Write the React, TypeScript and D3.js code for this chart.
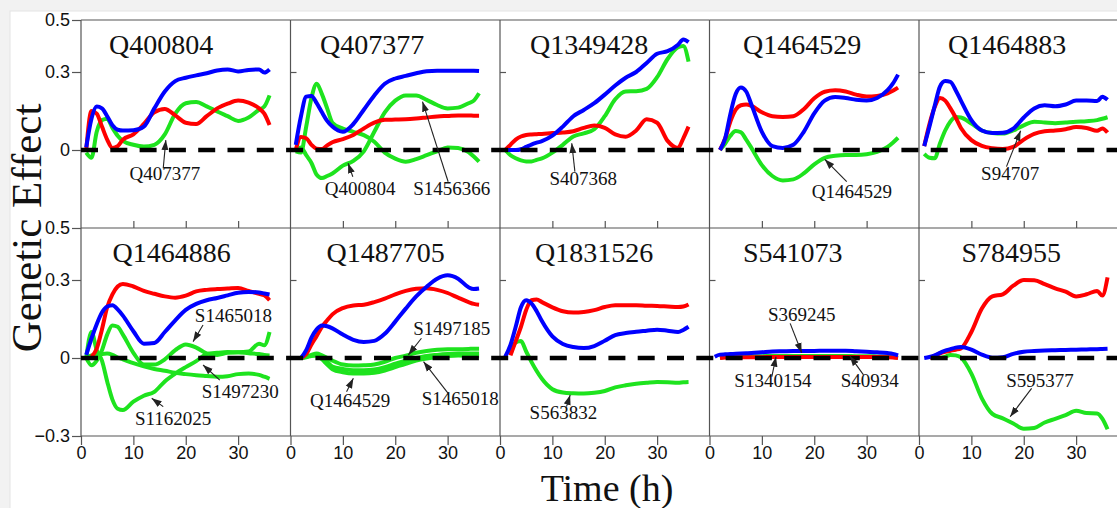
import React, { useRef, useEffect } from 'react';
import * as d3 from 'd3';

// sampling times (h), shared by every curve
const hours = [1, 2, 3, 4, 5, 6, 7, 8, 10, 12, 14, 16, 18, 20, 22, 24, 26, 28, 30, 32, 34, 35, 36];

const titles = ['Q400804', 'Q407377', 'Q1349428', 'Q1464529', 'Q1464883', 'Q1464886', 'Q1487705', 'Q1831526', 'S541073', 'S784955'];

const yTicksTop = [0.5, 0.3, 0];
const yTicksBottom = [0.5, 0.3, 0, -0.3];
const xTicks = [0, 10, 20, 30];

// Q400804
const q400804Red = [0, 0.15, 0.14, 0.09, 0.04, 0.008, 0.015, 0.04, 0.06, 0.1, 0.145, 0.158, 0.133, 0.105, 0.1, 0.13, 0.16, 0.178, 0.19, 0.182, 0.16, 0.14, 0.096];
const q400804Blue = [0.01, 0.12, 0.167, 0.16, 0.13, 0.095, 0.078, 0.075, 0.076, 0.09, 0.16, 0.225, 0.265, 0.278, 0.287, 0.295, 0.306, 0.31, 0.302, 0.308, 0.31, 0.298, 0.31];
const q400804Green = [-0.01, -0.03, 0.07, 0.115, 0.12, 0.085, 0.055, 0.035, 0.02, 0.013, 0.02, 0.06, 0.14, 0.18, 0.185, 0.168, 0.148, 0.13, 0.112, 0.125, 0.155, 0.167, 0.21];

// Q407377
const q407377Red = [0, 0.05, 0.045, 0.02, 0.005, 0.004, 0.018, 0.03, 0.042, 0.058, 0.083, 0.105, 0.116, 0.117, 0.118, 0.121, 0.125, 0.129, 0.131, 0.133, 0.133, 0.132, 0.132];
const q407377Blue = [0.02, 0.13, 0.205, 0.208, 0.18, 0.145, 0.112, 0.09, 0.07, 0.1, 0.155, 0.21, 0.255, 0.275, 0.285, 0.295, 0.303, 0.305, 0.305, 0.305, 0.305, 0.305, 0.304];
const q407377Green1 = [-0.005, -0.01, 0.09, 0.2, 0.255, 0.215, 0.16, 0.105, 0.082, 0.07, 0.057, 0.032, -0.01, -0.033, -0.045, -0.035, -0.02, -0.005, 0.01, 0.008, -0.008, -0.025, -0.045];
const q407377Green2 = [0, 0.01, -0.02, -0.05, -0.095, -0.108, -0.1, -0.09, -0.06, -0.042, -0.005, 0.07, 0.145, 0.19, 0.21, 0.21, 0.193, 0.173, 0.16, 0.163, 0.18, 0.19, 0.218];

// Q1349428
const q1349428Red = [0, 0.02, 0.04, 0.052, 0.058, 0.06, 0.061, 0.062, 0.065, 0.067, 0.072, 0.085, 0.094, 0.085, 0.06, 0.051, 0.075, 0.118, 0.105, 0.035, 0.008, 0.045, 0.09];
const q1349428Blue = [0, 0, 0, 0.003, 0.012, 0.021, 0.028, 0.034, 0.055, 0.09, 0.13, 0.154, 0.18, 0.213, 0.248, 0.278, 0.3, 0.335, 0.37, 0.38, 0.405, 0.425, 0.415];
const q1349428Green = [0, -0.02, -0.032, -0.04, -0.044, -0.044, -0.038, -0.032, -0.01, 0.02, 0.052, 0.064, 0.08, 0.13, 0.195, 0.225, 0.226, 0.235, 0.28, 0.35, 0.395, 0.4, 0.34];

// Q1464529
const q1464529Red = [null, 0, 0.045, 0.11, 0.155, 0.172, 0.175, 0.17, 0.145, 0.13, 0.127, 0.13, 0.157, 0.199, 0.224, 0.23, 0.225, 0.213, 0.206, 0.208, 0.218, 0.228, 0.24];
const q1464529Blue = [null, 0, 0.045, 0.14, 0.215, 0.24, 0.225, 0.175, 0.07, 0.015, 0.008, 0.02, 0.07, 0.141, 0.19, 0.204, 0.2, 0.193, 0.19, 0.2, 0.23, 0.255, 0.29];
const q1464529Green = [null, 0, 0.025, 0.055, 0.073, 0.068, 0.04, 0.008, -0.058, -0.1, -0.117, -0.113, -0.09, -0.055, -0.03, -0.022, -0.019, -0.019, -0.016, -0.007, 0.012, 0.028, 0.047];

// Q1464883
const q1464883Red = [0.015, 0.1, 0.165, 0.2, 0.19, 0.16, 0.125, 0.085, 0.038, 0.016, 0.007, 0.004, 0.012, 0.04, 0.062, 0.072, 0.075, 0.08, 0.088, 0.085, 0.074, 0.083, 0.067];
const q1464883Blue = [0.015, 0.09, 0.17, 0.244, 0.265, 0.262, 0.23, 0.19, 0.115, 0.075, 0.065, 0.066, 0.082, 0.125, 0.16, 0.172, 0.168, 0.175, 0.19, 0.19, 0.188, 0.205, 0.193];
const q1464883Green = [-0.015, -0.03, -0.032, 0.025, 0.075, 0.11, 0.127, 0.125, 0.102, 0.075, 0.065, 0.063, 0.075, 0.095, 0.109, 0.106, 0.103, 0.106, 0.109, 0.111, 0.115, 0.12, 0.126];

// Q1464886
const q1464886Red = [null, 0.005, 0.036, 0.11, 0.195, 0.245, 0.275, 0.285, 0.275, 0.258, 0.247, 0.237, 0.232, 0.24, 0.256, 0.262, 0.265, 0.267, 0.269, 0.258, 0.247, 0.241, 0.222];
const q1464886Blue = [0.012, 0.075, 0.13, 0.175, 0.198, 0.203, 0.187, 0.163, 0.103, 0.055, 0.058, 0.1, 0.145, 0.185, 0.208, 0.222, 0.231, 0.241, 0.251, 0.254, 0.252, 0.248, 0.244];
const q1464886Green1 = [0, 0.1, 0.03, -0.01, -0.09, -0.16, -0.195, -0.2, -0.168, -0.145, -0.13, -0.09, -0.06, -0.035, -0.012, 0.015, 0.02, 0.023, 0.022, 0.025, 0.055, 0.049, 0.1];
const q1464886Green2 = [0, -0.028, -0.01, 0.03, 0.09, 0.125, 0.12, 0.09, 0.02, -0.025, -0.025, -0.005, 0.03, 0.052, 0.04, 0.018, 0.012, 0.02, 0.022, 0.018, 0.015, 0.012, 0.01];
const q1464886Green3 = [0, 0.01, 0.01, 0.015, 0.017, 0.012, 0.002, -0.005, -0.02, -0.032, -0.042, -0.049, -0.057, -0.062, -0.066, -0.069, -0.072, -0.07, -0.062, -0.06, -0.065, -0.072, -0.08];

// Q1487705
const q1487705Red = [null, 0, 0.015, 0.052, 0.085, 0.12, 0.145, 0.168, 0.192, 0.202, 0.205, 0.215, 0.228, 0.245, 0.258, 0.266, 0.268, 0.262, 0.25, 0.232, 0.215, 0.208, 0.205];
const q1487705Blue = [null, 0, 0.03, 0.078, 0.11, 0.125, 0.122, 0.114, 0.09, 0.07, 0.062, 0.066, 0.093, 0.14, 0.19, 0.237, 0.274, 0.305, 0.318, 0.305, 0.272, 0.265, 0.267];
const q1487705Green1 = [null, 0, 0.005, 0.012, 0.017, 0.01, 0, -0.01, -0.025, -0.029, -0.028, -0.025, -0.015, 0, 0.009, 0.02, 0.027, 0.032, 0.034, 0.034, 0.035, 0.036, 0.036];
const q1487705Green2 = [null, 0, 0.005, 0.01, 0.012, 0, -0.015, -0.033, -0.042, -0.047, -0.047, -0.044, -0.035, -0.022, -0.01, 0, 0.008, 0.012, 0.015, 0.017, 0.017, 0.017, 0.017];
const q1487705Green3 = [null, 0, 0.003, 0.008, 0.01, -0.005, -0.025, -0.043, -0.055, -0.06, -0.06, -0.057, -0.048, -0.035, -0.022, -0.01, -0.002, 0.004, 0.008, 0.01, 0.009, 0.008, 0.008];

// Q1831526
const q1831526Red = [null, 0.01, 0.065, 0.12, 0.185, 0.222, 0.225, 0.215, 0.195, 0.18, 0.175, 0.177, 0.184, 0.196, 0.203, 0.203, 0.203, 0.201, 0.2, 0.198, 0.196, 0.198, 0.206];
const q1831526Blue = [0.005, 0.05, 0.12, 0.195, 0.222, 0.21, 0.18, 0.142, 0.083, 0.054, 0.042, 0.038, 0.046, 0.066, 0.088, 0.096, 0.101, 0.105, 0.109, 0.105, 0.1, 0.108, 0.12];
const q1831526Green = [null, 0.015, 0.06, 0.065, 0.025, -0.015, -0.05, -0.08, -0.12, -0.133, -0.136, -0.137, -0.134, -0.127, -0.113, -0.105, -0.099, -0.095, -0.092, -0.093, -0.095, -0.093, -0.092];

// S541073
const s541073Red = [null, 0, 0.002, 0.003, 0.003, 0.003, 0.003, 0.003, 0.003, 0.004, 0.004, 0.004, 0.004, 0.004, 0.004, 0.004, 0.004, 0.004, 0.004, 0.004, 0.003, 0.002, 0];
const s541073Blue = [0.005, 0.013, 0.014, 0.015, 0.016, 0.017, 0.018, 0.019, 0.022, 0.025, 0.026, 0.027, 0.027, 0.027, 0.028, 0.028, 0.028, 0.026, 0.024, 0.022, 0.019, 0.016, 0.01];
const s541073Green = [null, 0, 0.004, 0.005, 0.006, 0.006, 0.006, 0.007, 0.007, 0.008, 0.008, 0.008, 0.008, 0.008, 0.008, 0.008, 0.008, 0.007, 0.007, 0.006, 0.005, 0.004, 0.002];

// S784955
const s784955Red = [null, 0, 0.008, 0.018, 0.024, 0.028, 0.032, 0.037, 0.1, 0.19, 0.237, 0.245, 0.278, 0.3, 0.299, 0.284, 0.268, 0.255, 0.237, 0.245, 0.258, 0.24, 0.31];
const s784955Blue = [0, 0.004, 0.01, 0.02, 0.028, 0.034, 0.04, 0.042, 0.032, 0.013, 0.001, 0.003, 0.016, 0.024, 0.027, 0.029, 0.03, 0.031, 0.032, 0.033, 0.034, 0.035, 0.036];
const s784955Green = [null, null, 0, 0, 0.005, 0.012, 0.01, 0.002, -0.06, -0.155, -0.215, -0.232, -0.252, -0.272, -0.269, -0.248, -0.234, -0.22, -0.203, -0.212, -0.213, -0.233, -0.274];

const reds = [q400804Red, q407377Red, q1349428Red, q1464529Red, q1464883Red, q1464886Red, q1487705Red, q1831526Red, s541073Red, s784955Red];
const blues = [q400804Blue, q407377Blue, q1349428Blue, q1464529Blue, q1464883Blue, q1464886Blue, q1487705Blue, q1831526Blue, s541073Blue, s784955Blue];
const greens = [
  [q400804Green],
  [q407377Green1, q407377Green2],
  [q1349428Green],
  [q1464529Green],
  [q1464883Green],
  [q1464886Green1, q1464886Green2, q1464886Green3],
  [q1487705Green1, q1487705Green2, q1487705Green3],
  [q1831526Green],
  [s541073Green],
  [s784955Green],
];

// annotation labels: panel, text, text pos (h, effect), arrow from -> to (h, effect)
const notes = [
  { p: 0, text: 'Q407377', at: [16, -0.115], from: [15.7, -0.07], to: [16.2, 0.038] },
  { p: 1, text: 'Q400804', at: [13.3, -0.173], from: [11.9, -0.103], to: [11, -0.051] },
  { p: 1, text: 'S1456366', at: [30.8, -0.173], from: [30.1, -0.122], to: [25.2, 0.186] },
  { p: 2, text: 'S407368', at: [15.9, -0.135], from: [14.3, -0.083], to: [13.7, 0.026] },
  { p: 3, text: 'Q1464529', at: [27.2, -0.185], from: [26.2, -0.122], to: [22, -0.036] },
  { p: 4, text: 'S94707', at: [17.4, -0.115], from: [16.7, -0.064], to: [19.4, 0.074] },
  { p: 5, text: 'S1465018', at: [29.1, 0.14], from: [23.3, 0.127], to: [21.4, 0.063] },
  { p: 5, text: 'S1497230', at: [30.4, -0.155], from: [26.5, -0.085], to: [23.3, -0.027] },
  { p: 5, text: 'S1162025', at: [17.6, -0.258], from: [15.7, -0.187], to: [13.5, -0.155] },
  { p: 6, text: 'S1497185', at: [30.8, 0.088], from: [25, 0.076], to: [22.5, 0.012] },
  { p: 6, text: 'Q1464529', at: [11.4, -0.187], from: [10.7, -0.13], to: [12, -0.078] },
  { p: 6, text: 'S1465018', at: [32.4, -0.181], from: [30.1, -0.136], to: [25.4, -0.014] },
  { p: 7, text: 'S563832', at: [12.1, -0.236], from: [12.7, -0.187], to: [13.4, -0.142] },
  { p: 8, text: 'S369245', at: [17.6, 0.143], from: [15.4, 0.133], to: [17.6, 0.02] },
  { p: 8, text: 'S1340154', at: [12.1, -0.11], from: [11.9, -0.072], to: [12.7, 0.005] },
  { p: 8, text: 'S40934', at: [30.6, -0.11], from: [29.4, -0.065], to: [26.8, 0.008] },
  { p: 9, text: 'S595377', at: [23.1, -0.11], from: [21.5, -0.117], to: [17.4, -0.226] },
];

// title left offsets inside each panel (px)
const titleOffsets = [28, 29.5, 30, 33.5, 29, 31.5, 36, 35, 33.5, 42.5];

const SANS = "'Liberation Sans', Arial, sans-serif";
const SERIF = "'Liberation Serif', 'Times New Roman', serif";

const App = () => {
  const chartRef = useRef<SVGSVGElement>(null);

  useEffect(() => {
    const W = 1117;
    const H = 508;
    const left = 81;
    const top = 20;
    const panelW = 209.5;
    const panelH = 208;
    const axisColor = '#555';

    const svg = d3.select(chartRef.current);
    svg.selectAll('*').remove();

    svg.append('rect').attr('width', W).attr('height', H).attr('fill', '#f2f2f2');
    svg
      .append('rect')
      .attr('x', 10)
      .attr('y', 11)
      .attr('width', W)
      .attr('height', H)
      .attr('fill', '#fff')
      .attr('stroke', '#e4e4e4');

    svg
      .append('defs')
      .append('marker')
      .attr('id', 'arrow')
      .attr('markerUnits', 'userSpaceOnUse')
      .attr('markerWidth', 10)
      .attr('markerHeight', 8)
      .attr('refX', 10)
      .attr('refY', 4)
      .attr('orient', 'auto')
      .append('path')
      .attr('d', 'M0,0.5 L10,4 L0,7.5 Z')
      .attr('fill', '#222');

    const x = d3.scaleLinear().domain([0, 40]).range([0, panelW]);
    const y = d3.scaleLinear().domain([-0.3, 0.5]).range([panelH, 0]);
    const fmt = (d: number) => (d === 0 ? '0' : d3.format('.1f')(d));

    const line = d3
      .line<number | null>()
      .defined((d) => d !== null)
      .x((d, i) => x(hours[i]))
      .y((d) => y(d as number))
      .curve(d3.curveMonotoneX);

    titles.forEach((title, p) => {
      const col = p % 5;
      const row = Math.floor(p / 5);
      const g = svg
        .append('g')
        .attr('transform', `translate(${left + col * panelW},${top + row * panelH})`);

      // frame lines
      g.append('line').attr('x1', 0).attr('x2', panelW).attr('y1', 0).attr('y2', 0)
        .attr('stroke', axisColor).attr('stroke-width', 1.2);
      g.append('line').attr('x1', 0).attr('x2', 0).attr('y1', 0).attr('y2', panelH)
        .attr('stroke', axisColor).attr('stroke-width', 1.2);
      if (row === 1) {
        g.append('line').attr('x1', 0).attr('x2', panelW).attr('y1', panelH).attr('y2', panelH)
          .attr('stroke', axisColor).attr('stroke-width', 1.2);
      }

      // y ticks
      if (col === 0) {
        const yAxis = d3.axisLeft(y)
          .tickValues(row === 0 ? yTicksTop : yTicksBottom)
          .tickFormat(fmt as any)
          .tickSize(9)
          .tickPadding(2);
        const ya = g.append('g').call(yAxis);
        ya.select('.domain').remove();
        ya.selectAll('line').attr('stroke', axisColor).attr('stroke-width', 1.2);
        ya.selectAll('text').attr('font-family', SANS).attr('font-size', 18).attr('fill', '#111');
      } else {
        const yAxis = d3.axisRight(y).tickValues([0.3]).tickFormat(() => '').tickSize(6);
        const ya = g.append('g').call(yAxis);
        ya.select('.domain').remove();
        ya.selectAll('line').attr('stroke', axisColor).attr('stroke-width', 1.2);
      }

      // x ticks
      if (row === 0) {
        const xAxis = d3.axisTop(x).tickValues([10, 20, 30]).tickFormat(() => '').tickSize(7);
        const xa = g.append('g').attr('transform', `translate(0,${panelH})`).call(xAxis);
        xa.select('.domain').remove();
        xa.selectAll('line').attr('stroke', axisColor).attr('stroke-width', 1.2);
      } else {
        const xAxis = d3.axisBottom(x).tickValues(xTicks).tickFormat(d3.format('d') as any).tickSize(9).tickPadding(1);
        const xa = g.append('g').attr('transform', `translate(0,${panelH})`).call(xAxis);
        xa.select('.domain').remove();
        xa.selectAll('line').attr('stroke', axisColor).attr('stroke-width', 1.2);
        xa.selectAll('text').attr('font-family', SANS).attr('font-size', 18).attr('fill', '#111');
      }

      // title
      g.append('text')
        .attr('x', titleOffsets[p])
        .attr('y', 34)
        .attr('font-family', SERIF)
        .attr('font-size', 28)
        .attr('fill', '#111')
        .text(title);

      // curves
      greens[p].forEach((s) => {
        g.append('path').attr('d', line(s)).attr('fill', 'none')
          .attr('stroke', '#1ee31e').attr('stroke-width', 4).attr('stroke-linejoin', 'round');
      });
      g.append('path').attr('d', line(reds[p])).attr('fill', 'none')
        .attr('stroke', '#ff0000').attr('stroke-width', 4).attr('stroke-linejoin', 'round');
      g.append('path').attr('d', line(blues[p])).attr('fill', 'none')
        .attr('stroke', '#0000ff').attr('stroke-width', 4).attr('stroke-linejoin', 'round');
    });

    // dashed zero lines across each row
    [0, 1].forEach((row) => {
      const y0 = top + row * panelH + y(0);
      svg.append('line')
        .attr('x1', left).attr('x2', W)
        .attr('y1', y0).attr('y2', y0)
        .attr('stroke', '#000')
        .attr('stroke-width', 4.5)
        .attr('stroke-dasharray', '17,12.3');
    });

    // annotations
    notes.forEach((n) => {
      const col = n.p % 5;
      const row = Math.floor(n.p / 5);
      const ox = left + col * panelW;
      const oy = top + row * panelH;
      svg.append('line')
        .attr('x1', ox + x(n.from[0])).attr('y1', oy + y(n.from[1]))
        .attr('x2', ox + x(n.to[0])).attr('y2', oy + y(n.to[1]))
        .attr('stroke', '#222').attr('stroke-width', 1.1)
        .attr('marker-end', 'url(#arrow)');
      svg.append('text')
        .attr('x', ox + x(n.at[0])).attr('y', oy + y(n.at[1]))
        .attr('text-anchor', 'middle')
        .attr('font-family', SERIF).attr('font-size', 19).attr('fill', '#111')
        .text(n.text);
    });

    // axis titles
    svg.append('text')
      .attr('transform', `translate(41,228) rotate(-90)`)
      .attr('text-anchor', 'middle')
      .attr('font-family', SERIF)
      .attr('font-size', 43)
      .attr('fill', '#111')
      .text('Genetic Effect');

    svg.append('text')
      .attr('x', 607)
      .attr('y', 501)
      .attr('text-anchor', 'middle')
      .attr('font-family', SERIF)
      .attr('font-size', 38)
      .attr('fill', '#111')
      .text('Time (h)');
  }, []);

  return (
    <svg
      ref={chartRef}
      width={1117}
      height={508}
      style={{ position: 'absolute', left: 0, top: 0 }}
    ></svg>
  );
};

export default App;
